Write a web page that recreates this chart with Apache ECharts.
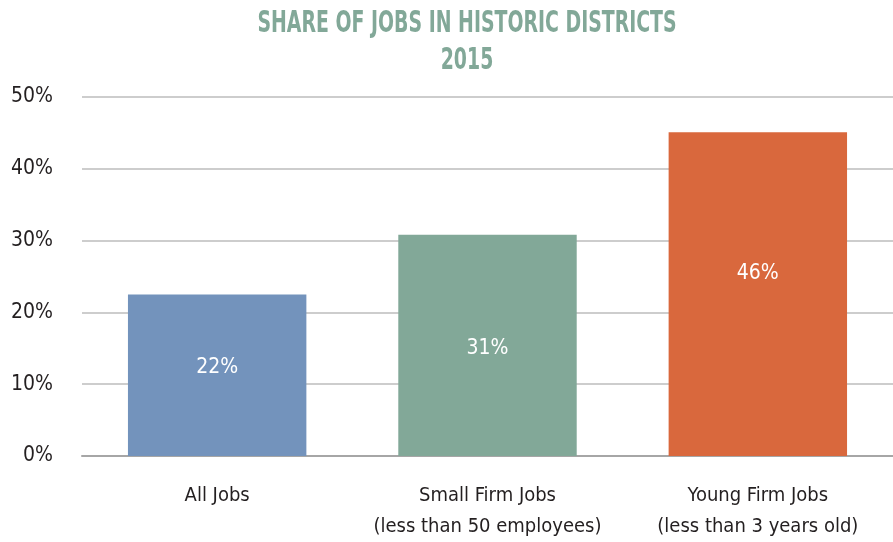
<!DOCTYPE html>
<html><head><meta charset="utf-8">
<script src="https://cdn.jsdelivr.net/npm/echarts@6/dist/echarts.min.js"></script>
<style>html,body{margin:0;padding:0;background:#fff}#c{width:893px;height:542px}</style>
</head><body><div id="c"></div>
<script>
const categories = ['All Jobs', 'Small Firm Jobs\n(less than 50 employees)', 'Young Firm Jobs\n(less than 3 years old)'];
const values = [22.5, 30.8, 45.1];
const valueLabels = ['22%', '31%', '46%'];
const barColors = ['#7393bc', '#82a898', '#d9683d'];
const yTicks = [0, 10, 20, 30, 40, 50];
const titleLines = ['SHARE OF JOBS IN HISTORIC DISTRICTS', '2015'];

const FONT = '"DejaVu Sans Condensed", "Liberation Sans Narrow", sans-serif';
const chart = echarts.init(document.getElementById('c'));
const titleStyle = { fontFamily: FONT, fontSize: 30, fontWeight: 'bold', fill: '#82a898', align: 'center', verticalAlign: 'middle' };
const labelShift = [-8, 3, -21];
chart.setOption({
  animation: false,
  graphic: titleLines.map((t, i) => ({
    type: 'text', x: 467, y: 24 + i * 37, scaleX: 0.7, scaleY: 1,
    style: Object.assign({ text: t }, titleStyle)
  })),
  grid: { left: 82, right: -6, top: 97, bottom: 86, containLabel: false },
  xAxis: {
    type: 'category', data: categories,
    axisLine: { lineStyle: { color: '#a6a6a6', width: 2 } },
    axisTick: { show: false },
    axisLabel: { interval: 0, fontFamily: FONT, fontSize: 20, color: '#231f20', lineHeight: 31, margin: 24 }
  },
  yAxis: {
    type: 'value', min: yTicks[0], max: yTicks[yTicks.length - 1], interval: 10,
    axisLine: { show: false }, axisTick: { show: false },
    splitLine: { lineStyle: { color: '#bdbdbd', width: 1.5 } },
    axisLabel: { fontFamily: FONT, fontSize: 21, color: '#231f20', margin: 29, formatter: v => v + '%' }
  },
  series: [{
    type: 'bar', barWidth: '66%',
    data: values.map((v, i) => ({ value: v, itemStyle: { color: barColors[i] }, label: { offset: [0, labelShift[i]] } })),
    label: {
      show: true, position: 'inside', fontFamily: FONT, fontSize: 21, color: '#ffffff',
      formatter: p => valueLabels[p.dataIndex]
    }
  }]
});
</script></body></html>
